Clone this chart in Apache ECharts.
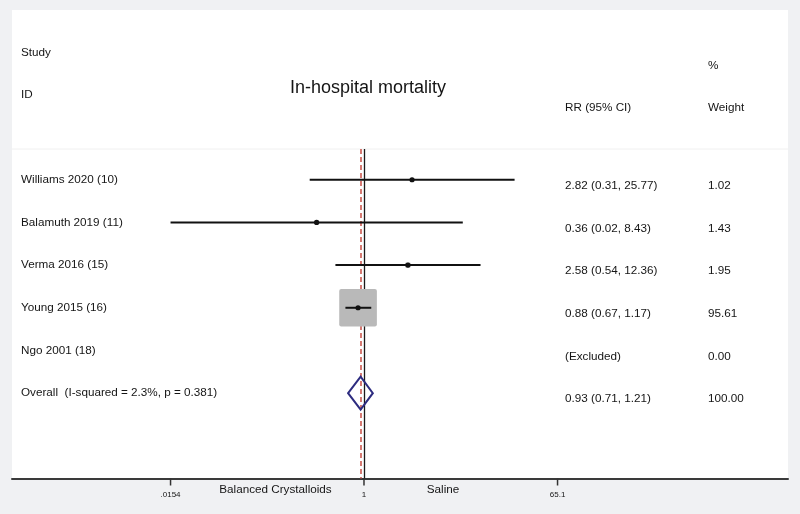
<!DOCTYPE html>
<html>
<head>
<meta charset="utf-8">
<script src="https://cdn.jsdelivr.net/npm/echarts@6/dist/echarts.min.js"></script>
<style>
html,body{margin:0;padding:0;background:#f0f1f3;}
#c{width:800px;height:514px;}
</style>
</head>
<body>
<div id="c"></div>
<script>
// ---- data ----
const studies = ["Williams 2020 (10)", "Balamuth 2019 (11)", "Verma 2016 (15)", "Young 2015 (16)", "Ngo 2001 (18)", "Overall  (I-squared = 2.3%, p = 0.381)"];
const rrEst   = [2.82, 0.36, 2.58, 0.88, null, 0.93];
const rrLow   = [0.31, 0.0154, 0.54, 0.67, null, 0.71];
const rrHigh  = [25.77, 8.43, 12.36, 1.17, null, 1.21];
const rrLabels = ["2.82 (0.31, 25.77)", "0.36 (0.02, 8.43)", "2.58 (0.54, 12.36)", "0.88 (0.67, 1.17)", "(Excluded)", "0.93 (0.71, 1.21)"];
const weights = [1.02, 1.43, 1.95, 95.61, 0.00, 100.00];
const weightLabels = ["1.02", "1.43", "1.95", "95.61", "0.00", "100.00"];
const tickValues = [0.0154, 1, 65.1];
const tickLabels = [".0154", "1", "65.1"];
const nullLine = 1;
const overallLine = 0.93;

const FONT = '"Liberation Sans", Arial, sans-serif';
const TXT = '#151515';

// study rows (not overall)
const studyData = [];
for (let i = 0; i < 5; i++) {
  if (rrEst[i] != null) studyData.push([rrLow[i], rrEst[i], rrHigh[i], i, weights[i]]);
}
const overallData = [[rrLow[5], rrEst[5], rrHigh[5], 5]];
const labelData = studies.map((s, i) => [1, i]);
const tickData = tickValues.map((v, i) => [v, 7]);

const chart = echarts.init(document.getElementById('c'), null, {renderer: 'canvas'});

const option = {
  backgroundColor: '#f0f1f3',
  animation: false,
  grid: {left: 12, right: 12, top: 149, bottom: 35.5, containLabel: false},
  xAxis: {
    type: 'log', logBase: Math.E,
    min: Math.exp(-7.594), max: Math.exp(9.148),
    position: 'bottom',
    axisLine: {show: true, onZero: false, lineStyle: {color: '#3a3a3a', width: 2}},
    axisTick: {show: false}, axisLabel: {show: false}, splitLine: {show: false}
  },
  yAxis: {
    type: 'value', inverse: true, min: -0.72, max: 7, show: false
  },
  graphic: [
    {type: 'rect', z: -10, silent: true, shape: {x: 12, y: 10, width: 776, height: 468}, style: {fill: '#ffffff'}},
    {type: 'line', z: -5, silent: true, shape: {x1: 12, y1: 149, x2: 788, y2: 149}, style: {stroke: '#f0f0f0', lineWidth: 1}},
    {type: 'text', style: {text: 'Study', x: 21, y: 53, font: '11.7px ' + FONT, fill: TXT, verticalAlign: 'middle'}},
    {type: 'text', style: {text: 'ID', x: 21, y: 95, font: '11.7px ' + FONT, fill: TXT, verticalAlign: 'middle'}},
    {type: 'text', style: {text: 'In-hospital mortality', x: 368, y: 88, font: '18px ' + FONT, fill: TXT, align: 'center', verticalAlign: 'middle'}},
    {type: 'text', style: {text: '%', x: 708, y: 66, font: '11.7px ' + FONT, fill: TXT, verticalAlign: 'middle'}},
    {type: 'text', style: {text: 'RR (95% CI)', x: 565, y: 108, font: '11.7px ' + FONT, fill: TXT, verticalAlign: 'middle'}},
    {type: 'text', style: {text: 'Weight', x: 708, y: 108, font: '11.7px ' + FONT, fill: TXT, verticalAlign: 'middle'}},
    {type: 'text', style: {text: 'Balanced Crystalloids', x: 275.5, y: 490, font: '11.7px ' + FONT, fill: TXT, align: 'center', verticalAlign: 'middle'}},
    {type: 'text', style: {text: 'Saline', x: 443, y: 490, font: '11.7px ' + FONT, fill: TXT, align: 'center', verticalAlign: 'middle'}}
  ],
  series: [
    {
      // reference lines
      type: 'line', data: [], z: 1,
      markLine: {
        silent: true, symbol: 'none', label: {show: false},
        data: [
          {xAxis: nullLine, lineStyle: {color: '#1a1a1a', width: 1.3, type: 'solid'}},
          {xAxis: overallLine, lineStyle: {color: '#cc5a52', width: 1.6, type: [5, 3]}}
        ]
      }
    },
    {
      type: 'custom', z: 5, clip: false,
      data: studyData,
      renderItem: function (params, api) {
        const row = api.value(3);
        const pLo = api.coord([api.value(0), row]);
        const pEst = api.coord([api.value(1), row]);
        const pHi = api.coord([api.value(2), row]);
        const side = 3.85 * Math.sqrt(api.value(4));
        return {
          type: 'group',
          children: [
            {type: 'rect', shape: {x: pEst[0] - side / 2, y: pEst[1] - side / 2, width: side, height: side, r: Math.min(2, side / 4)}, style: {fill: '#b9b9b9'}},
            {type: 'line', shape: {x1: pLo[0], y1: pLo[1], x2: pHi[0], y2: pHi[1]}, style: {stroke: '#111', lineWidth: 2}},
            {type: 'circle', shape: {cx: pEst[0], cy: pEst[1], r: 2.6}, style: {fill: '#111'}}
          ]
        };
      }
    },
    {
      type: 'custom', z: 5, clip: false,
      data: overallData,
      renderItem: function (params, api) {
        const row = api.value(3);
        const pLo = api.coord([api.value(0), row]);
        const pEst = api.coord([api.value(1), row]);
        const pHi = api.coord([api.value(2), row]);
        const h = 16.5;
        return {
          type: 'polygon',
          shape: {points: [[pLo[0], pLo[1]], [pEst[0], pEst[1] - h], [pHi[0], pHi[1]], [pEst[0], pEst[1] + h]]},
          style: {fill: 'none', stroke: '#2d2c80', lineWidth: 2}
        };
      }
    },
    {
      type: 'custom', z: 6, clip: false,
      data: labelData,
      renderItem: function (params, api) {
        const i = params.dataIndex;
        const y = api.coord([1, api.value(1)])[1];
        const f = '11.7px ' + FONT;
        return {
          type: 'group',
          children: [
            {type: 'text', style: {text: studies[i], x: 21, y: y, font: f, fill: TXT, verticalAlign: 'middle'}},
            {type: 'text', style: {text: rrLabels[i], x: 565, y: y + 6, font: f, fill: TXT, verticalAlign: 'middle'}},
            {type: 'text', style: {text: weightLabels[i], x: 708, y: y + 6, font: f, fill: TXT, verticalAlign: 'middle'}}
          ]
        };
      }
    },
    {
      type: 'custom', z: 6, clip: false,
      data: tickData,
      renderItem: function (params, api) {
        const p = api.coord([api.value(0), api.value(1)]);
        return {
          type: 'group',
          children: [
            {type: 'line', shape: {x1: p[0], y1: p[1], x2: p[0], y2: p[1] + 7}, style: {stroke: '#333', lineWidth: 1.5}},
            {type: 'text', style: {text: tickLabels[params.dataIndex], x: p[0], y: p[1] + 16, font: '8px ' + FONT, fill: TXT, align: 'center', verticalAlign: 'middle'}}
          ]
        };
      }
    }
  ]
};
chart.setOption(option);
</script>
</body>
</html>
